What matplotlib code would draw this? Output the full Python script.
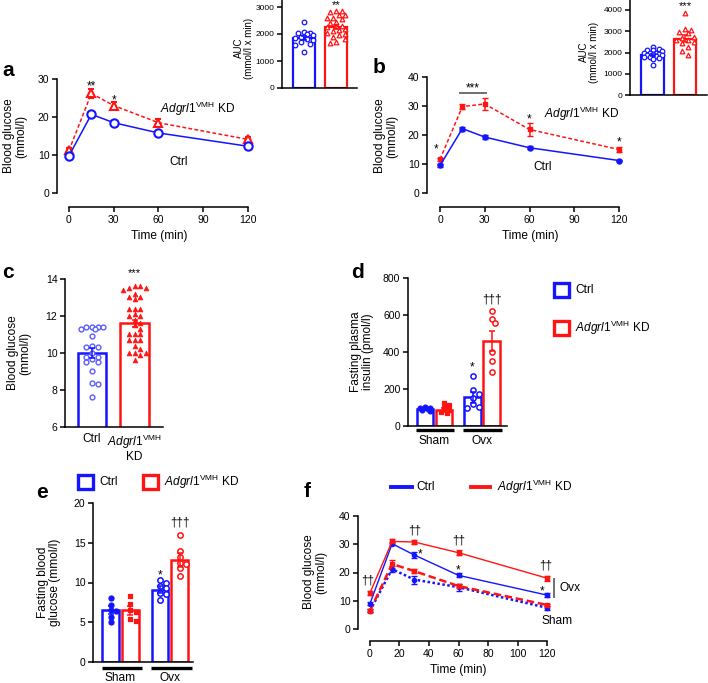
import numpy as np
import matplotlib
matplotlib.use('Agg')
import matplotlib.pyplot as plt
from matplotlib.patches import Rectangle
from matplotlib.lines import Line2D

plt.rcParams['font.family'] = ['Liberation Sans', 'DejaVu Sans']
plt.rcParams['mathtext.fontset'] = 'custom'
plt.rcParams['mathtext.rm'] = 'Liberation Sans'
plt.rcParams['mathtext.it'] = 'Liberation Sans:italic'
plt.rcParams['mathtext.bf'] = 'Liberation Sans:bold'

# ---------------- data ----------------
time_pts = [0, 15, 30, 60, 120]

a_ctrl = [9.8, 20.7, 18.5, 15.8, 12.3]
a_ctrl_err = [0.4, 0.6, 0.4, 0.5, 0.4]
a_kd = [11.2, 26.2, 23.0, 18.5, 14.1]
a_kd_err = [0.6, 1.2, 1.0, 1.0, 0.6]

a_auc_mean = [1860, 2260]
a_auc_err = [70, 90]
a_auc_ctrl = [2450, 2060, 2050, 2040, 2000, 1950, 1900, 1850, 1800, 1780, 1700, 1620, 1600, 1350]
a_auc_kd = [2870, 2850, 2820, 2720, 2700, 2600, 2580, 2560, 2450, 2400, 2300, 2280, 2250,
            2200, 2150, 2100, 2050, 2000, 1950, 1900, 1800, 1700, 1650]

b_ctrl = [9.5, 22.2, 19.3, 15.6, 11.2]
b_ctrl_err = [0.4, 0.7, 0.6, 0.5, 0.3]
b_kd = [11.6, 29.8, 30.7, 21.9, 15.0]
b_kd_err = [0.6, 1.0, 2.0, 2.2, 1.0]

b_auc_mean = [1900, 2650]
b_auc_err = [50, 150]
b_auc_ctrl = [2250, 2150, 2120, 2100, 2050, 2000, 2000, 1980, 1950, 1920, 1900, 1880, 1850,
              1800, 1780, 1750, 1700, 1400]
b_auc_kd = [3850, 3100, 3050, 2950, 2900, 2750, 2700, 2600, 2600, 2500, 2450, 2250, 2050, 1900]

c_mean = [10.0, 11.6]
c_err = [0.25, 0.2]
c_ctrl = [11.4, 11.4, 11.4, 11.4, 11.3, 11.3, 10.9, 10.4, 10.3, 10.3, 10.0, 9.8, 9.8, 9.7,
          9.5, 9.5, 9.0, 8.4, 8.3, 7.6]
c_kd = [13.6, 13.6, 13.5, 13.5, 13.4, 13.2, 13.0, 13.0, 12.9, 12.4, 12.4, 12.4, 12.1, 12.0,
        12.0, 11.8, 11.6, 11.5, 11.3, 11.0, 11.0, 11.0, 10.7, 10.7, 10.7, 10.4, 10.2, 10.0,
        10.0, 10.0, 9.9, 9.6]
c_labels = ['Ctrl', r'$\mathit{Adgrl1}^{\mathrm{VMH}}$' + '\nKD']

groups = ['Sham', 'Ovx']
d_mean = [90, 87, 155, 460]
d_err = [5, 10, 30, 55]
d_sham_ctrl = [105, 100, 95, 92, 88, 80]
d_sham_kd = [125, 115, 95, 85, 75, 70]
d_ovx_ctrl = [270, 195, 175, 150, 120, 105, 100]
d_ovx_kd = [620, 580, 555, 400, 350, 290]

e_mean = [6.6, 6.5, 9.1, 12.8]
e_err = [0.5, 0.6, 0.4, 0.9]
e_sham_ctrl = [8.1, 7.2, 6.6, 6.4, 5.6, 5.0]
e_sham_kd = [8.3, 7.3, 6.6, 6.3, 5.4, 5.1]
e_ovx_ctrl = [10.3, 10.0, 9.6, 9.3, 8.7, 8.5, 7.8]
e_ovx_kd = [16.0, 14.0, 13.2, 12.5, 12.3, 11.8, 10.8]

f_ovx_kd = [12.8, 31.0, 30.8, 27.0, 18.0]
f_ovx_kd_err = [0.8, 0.7, 0.8, 0.8, 0.9]
f_ovx_ctrl = [9.0, 30.2, 26.2, 19.0, 12.0]
f_ovx_ctrl_err = [0.5, 0.6, 0.9, 0.7, 0.8]
f_sham_kd = [6.5, 23.0, 20.5, 15.2, 8.5]
f_sham_kd_err = [0.6, 1.3, 0.8, 0.6, 0.5]
f_sham_ctrl = [6.5, 21.2, 17.5, 14.8, 7.5]
f_sham_ctrl_err = [0.5, 1.0, 1.4, 1.3, 0.6]

# ---------------- style ----------------
W, H = 708, 683
BLUE = '#1414ff'
RED = '#ff1414'
LBLUE = '#5c5cff'
KD = r'$\mathit{Adgrl1}^{\mathrm{VMH}}$ KD'
TICK = 7.5
LAB = 8.6

fig = plt.figure(figsize=(W / 100, H / 100), dpi=100)


def ftext(x, y, s, **kw):
    return fig.text(x / W, 1 - y / H, s, **kw)


def make_ax(L, T, R, B, xmap, ymap, lsize=TICK):
    xa, pxa, xb, pxb = xmap
    sx = (pxb - pxa) / (xb - xa)
    ya, pya, yb, pyb = ymap
    sy = (pya - pyb) / (yb - ya)
    ax = fig.add_axes([L / W, 1 - B / H, (R - L) / W, (B - T) / H])
    ax.set_xlim(xa + (L - pxa) / sx, xa + (R - pxa) / sx)
    ax.set_ylim(ya + (pya - B) / sy, ya + (pya - T) / sy)
    ax.patch.set_alpha(0)
    for s in ['top', 'right']:
        ax.spines[s].set_visible(False)
    for s in ['left', 'bottom']:
        ax.spines[s].set_linewidth(1.1)
    ax.tick_params(direction='out', length=3.5, width=1.1, labelsize=lsize, pad=2)
    return ax


def swarm(ax, center, values, size_px, maxw):
    p0 = ax.transData.transform((0, 0))
    p1 = ax.transData.transform((1, 1))
    sx = p1[0] - p0[0]
    sy = p1[1] - p0[1]
    placed = []
    xs = []
    step = size_px * 0.6
    cands = [0]
    k = 1
    while k * step <= maxw * sx:
        cands += [k * step, -k * step]
        k += 1
    for v in values:
        yp = v * sy
        best, bestd = 0, -1
        for c in cands:
            d = min([np.hypot(c - px, yp - py) for px, py in placed] + [1e9])
            if d >= size_px * 1.05:
                best = c
                bestd = d
                break
            if d > bestd:
                best, bestd = c, d
        placed.append((best, yp))
        xs.append(center + best / sx)
    return xs


def bars(ax, pos, means, errs, colors, width, lw=1.8):
    for p, m, e, c in zip(pos, means, errs, colors):
        ax.bar(p, m, width, facecolor='white', edgecolor=c, linewidth=lw, zorder=2)
        ax.errorbar(p, m, yerr=e, color=c, capsize=2.5, elinewidth=1.1, capthick=1.1, zorder=4)


def points(ax, center, values, color, marker, size_px, filled, maxw, s=14, lw=0.9):
    xs = swarm(ax, center, values, size_px, maxw)
    if filled:
        ax.scatter(xs, values, s=s, marker=marker, facecolor=color, edgecolor=color,
                   linewidths=lw, zorder=3, clip_on=False)
    else:
        ax.scatter(xs, values, s=s, marker=marker, facecolor='white', edgecolor=color,
                   linewidths=lw, zorder=3, clip_on=False)


# ---------------- panel a ----------------
ax = make_ax(57, 70, 255, 207, (0, 69, 120, 248), (0, 193, 30, 79))
ax.spines['left'].set_bounds(0, 30)
ax.spines['bottom'].set_bounds(0, 120)
ax.set_yticks([0, 10, 20, 30])
ax.set_xticks([0, 30, 60, 90, 120])
ax.errorbar(time_pts, a_kd, yerr=a_kd_err, color=RED, ls=(0, (2.5, 1.5)), lw=1.1, marker='^',
            mfc='white', mec=RED, ms=6, mew=1.5, capsize=2.5, elinewidth=1.1, zorder=3)
ax.errorbar(time_pts, a_ctrl, yerr=a_ctrl_err, color=BLUE, ls='-', lw=1.1, marker='o',
            mfc='white', mec=BLUE, ms=6, mew=1.5, capsize=2.5, elinewidth=1.1, zorder=4)
ax.text(15, 28.0, '**', ha='center', va='center', fontsize=8.5)
ax.text(30, 24.3, '*', ha='center', va='center', fontsize=8.5)
ftext(160, 113, KD, fontsize=LAB, va='baseline')
ftext(179, 165, 'Ctrl', fontsize=LAB, va='baseline', ha='center')
ftext(15, 136, 'Blood glucose\n(mmol/l)', rotation=90, ha='center', va='center', fontsize=LAB,
      multialignment='center', linespacing=1.1)
ftext(159, 236, 'Time (min)', ha='center', va='center', fontsize=LAB)
ftext(2, 76, 'a', fontsize=15, fontweight='bold', va='baseline')

# AUC inset a
ax = make_ax(282, 0, 357, 88, (0, 304, 1, 336), (0, 88, 3000, 7), lsize=6)
ax.set_yticks([0, 1000, 2000, 3000])
ax.set_xticks([])
bars(ax, [0, 1], a_auc_mean, a_auc_err, [BLUE, RED], 0.68, lw=1.6)
points(ax, 0, a_auc_ctrl, BLUE, 'o', 5, False, 0.3, s=11, lw=0.9)
points(ax, 1, a_auc_kd, RED, '^', 5, False, 0.3, s=11, lw=0.9)
ax.text(1, 3080, '**', ha='center', va='center', fontsize=8)
ftext(244, 48, 'AUC\n(mmol/l x min)', rotation=90, ha='center', va='center', fontsize=7,
      multialignment='center', linespacing=1.1)

# ---------------- panel b ----------------
ax = make_ax(427, 70, 628, 207, (0, 440, 120, 619), (0, 193, 40, 77))
ax.spines['left'].set_bounds(0, 40)
ax.spines['bottom'].set_bounds(0, 120)
ax.set_yticks([0, 10, 20, 30, 40])
ax.set_xticks([0, 30, 60, 90, 120])
ax.errorbar(time_pts, b_kd, yerr=b_kd_err, color=RED, ls=(0, (2.5, 1.5)), lw=1.1, marker='s',
            ms=3.2, mfc=RED, mec=RED, capsize=2.5, elinewidth=1.1, zorder=3)
ax.errorbar(time_pts, b_ctrl, yerr=b_ctrl_err, color=BLUE, ls='-', lw=1.1, marker='o',
            ms=3.6, mfc=BLUE, mec=BLUE, capsize=2.5, elinewidth=1.1, zorder=4)
ax.text(-2.7, 15.0, '*', ha='center', va='center', fontsize=8.5)
ax.plot([13.4, 31], [34.6, 34.6], color='#707070', lw=1.4)
ax.text(22.2, 36.0, '***', ha='center', va='center', fontsize=8.5)
ax.text(60, 25.3, '*', ha='center', va='center', fontsize=8.5)
ax.text(120, 17.4, '*', ha='center', va='center', fontsize=8.5)
ftext(544, 118, KD, fontsize=LAB, va='baseline')
ftext(543, 170, 'Ctrl', fontsize=LAB, va='baseline', ha='center')
ftext(386, 136, 'Blood glucose\n(mmol/l)', rotation=90, ha='center', va='center', fontsize=LAB,
      multialignment='center', linespacing=1.1)
ftext(530, 236, 'Time (min)', ha='center', va='center', fontsize=LAB)
ftext(373, 73, 'b', fontsize=15, fontweight='bold', va='baseline')

# AUC inset b
ax = make_ax(630, 0, 707, 95, (0, 652.5, 1, 685), (0, 95, 4000, 10), lsize=6)
ax.set_yticks([0, 1000, 2000, 3000, 4000])
ax.set_xticks([])
bars(ax, [0, 1], b_auc_mean, b_auc_err, [BLUE, RED], 0.68, lw=1.6)
points(ax, 0, b_auc_ctrl, BLUE, 'o', 5, False, 0.3, s=11, lw=0.9)
points(ax, 1, b_auc_kd, RED, '^', 5, False, 0.3, s=11, lw=0.9)
ax.text(1, 4180, '***', ha='center', va='center', fontsize=8)
ftext(589, 52, 'AUC\n(mmol/l x min)', rotation=90, ha='center', va='center', fontsize=7,
      multialignment='center', linespacing=1.1)

# ---------------- panel c ----------------
ax = make_ax(65, 262, 163, 427, (0, 92, 1, 134.5), (6, 427, 14, 279))
ax.set_yticks([6, 8, 10, 12, 14])
ax.spines['left'].set_bounds(6, 14)
ax.set_xticks([0, 1])
ax.set_xticklabels(c_labels, fontsize=LAB, linespacing=1.0)
ax.tick_params(axis='x', length=0, pad=4)
bars(ax, [0, 1], c_mean, c_err, [BLUE, RED], 0.66)
points(ax, 0, c_ctrl, LBLUE, 'o', 4.6, False, 0.3, s=12, lw=1.0)
points(ax, 1, c_kd, RED, '^', 4.6, True, 0.3, s=12, lw=0.5)
ax.text(1, 14.3, '***', ha='center', va='center', fontsize=8)
ftext(19, 353, 'Blood glucose\n(mmol/l)', rotation=90, ha='center', va='center', fontsize=LAB,
      multialignment='center', linespacing=1.1)
ftext(2, 278, 'c', fontsize=15, fontweight='bold', va='baseline')

# ---------------- panel d ----------------
pos4 = [0, 1, 2.5, 3.5]
ax = make_ax(408, 268, 507, 426, (0, 425, 1, 444), (0, 426, 800, 278))
ax.set_yticks([0, 200, 400, 600, 800])
ax.spines['left'].set_bounds(0, 800)
ax.set_xticks([])
bars(ax, pos4, d_mean, d_err, [BLUE, RED, BLUE, RED], 0.86)
points(ax, pos4[0], d_sham_ctrl, BLUE, 'o', 4.2, True, 0.35, s=12)
points(ax, pos4[1], d_sham_kd, RED, 's', 4.2, True, 0.35, s=11)
points(ax, pos4[2], d_ovx_ctrl, BLUE, 'o', 5, False, 0.35, s=14, lw=1.1)
points(ax, pos4[3], d_ovx_kd, RED, 'o', 5, False, 0.35, s=14, lw=1.1)
ax.text(pos4[2], 316, '*', ha='center', va='center', fontsize=8.5)
ax.text(pos4[3], 684, '†††', ha='center', va='center', fontsize=8.5)
for gi, g in enumerate(groups):
    x0, x1 = pos4[2 * gi] - 0.5, pos4[2 * gi + 1] + 0.55
    ax.plot([x0, x1], [-22, -22], color='black', lw=2.4, clip_on=False, solid_capstyle='butt')
    ax.text((pos4[2 * gi] + pos4[2 * gi + 1]) / 2, -80, g, ha='center', va='center',
            fontsize=LAB)
ftext(362, 352, 'Fasting plasma\ninsulin (pmol/l)', rotation=90, ha='center', va='center',
      fontsize=LAB, multialignment='center', linespacing=1.1)
ftext(351, 278, 'd', fontsize=15, fontweight='bold', va='baseline')
# legend d
for yb, c, lab in [(283, BLUE, 'Ctrl'), (321, RED, KD)]:
    fig.add_artist(Rectangle((554 / W, 1 - (yb + 14) / H), 15 / W, 14 / H, transform=fig.transFigure,
                             facecolor='white', edgecolor=c, linewidth=2.4))
    ftext(575, yb + 7, lab, va='center', fontsize=LAB)

# ---------------- panel e ----------------
ax = make_ax(93, 495, 193, 662, (0, 110.5, 1, 130.3), (0, 662, 20, 503))
ax.set_yticks([0, 5, 10, 15, 20])
ax.spines['left'].set_bounds(0, 20)
ax.set_xticks([])
bars(ax, pos4, e_mean, e_err, [BLUE, RED, BLUE, RED], 0.84)
points(ax, pos4[0], e_sham_ctrl, BLUE, 'o', 4.4, True, 0.35, s=13)
points(ax, pos4[1], e_sham_kd, RED, 's', 4.4, True, 0.35, s=12)
points(ax, pos4[2], e_ovx_ctrl, BLUE, 'o', 5, False, 0.35, s=15, lw=1.1)
points(ax, pos4[3], e_ovx_kd, RED, 'o', 5, False, 0.35, s=15, lw=1.1)
ax.text(pos4[2], 10.9, '*', ha='center', va='center', fontsize=8.5)
ax.text(pos4[3], 17.5, '†††', ha='center', va='center', fontsize=8.5)
for gi, g in enumerate(groups):
    x0, x1 = pos4[2 * gi] - 0.45, pos4[2 * gi + 1] + 0.6
    ax.plot([x0, x1], [-0.75, -0.75], color='black', lw=2.4, clip_on=False, solid_capstyle='butt')
    ax.text((pos4[2 * gi] + pos4[2 * gi + 1]) / 2, -2.05, g, ha='center', va='center',
            fontsize=LAB)
ftext(49, 582, 'Fasting blood\nglucose (mmol/l)', rotation=90, ha='center', va='center',
      fontsize=LAB, multialignment='center', linespacing=1.1)
ftext(36, 498, 'e', fontsize=15, fontweight='bold', va='baseline')
for xb, c, lab in [(78, BLUE, 'Ctrl'), (143, RED, KD)]:
    fig.add_artist(Rectangle((xb / W, 1 - 489 / H), 15 / W, 14 / H, transform=fig.transFigure,
                             facecolor='white', edgecolor=c, linewidth=2.4))
    ftext(xb + 21, 482, lab, va='center', fontsize=LAB)

# ---------------- panel f ----------------
ax = make_ax(358, 508, 560, 641, (0, 370, 120, 547), (0, 629, 40, 516))
ax.spines['left'].set_bounds(0, 40)
ax.spines['bottom'].set_bounds(0, 120)
ax.set_yticks([0, 10, 20, 30, 40])
ax.set_xticks([0, 20, 40, 60, 80, 100, 120])
ax.errorbar(time_pts, f_sham_ctrl, yerr=f_sham_ctrl_err, color=BLUE, ls=(0, (1, 1)), lw=1.8,
            marker='o', ms=3, capsize=2, elinewidth=1.0, zorder=3)
ax.errorbar(time_pts, f_sham_kd, yerr=f_sham_kd_err, color=RED, ls=(0, (3, 1.5)), lw=1.8,
            marker='s', ms=3, capsize=2, elinewidth=1.0, zorder=3)
ax.errorbar(time_pts, f_ovx_ctrl, yerr=f_ovx_ctrl_err, color=BLUE, ls='-', lw=1.0,
            marker='o', ms=3, capsize=2, elinewidth=1.0, zorder=4)
ax.errorbar(time_pts, f_ovx_kd, yerr=f_ovx_kd_err, color=RED, ls='-', lw=1.0,
            marker='s', ms=3, capsize=2, elinewidth=1.0, zorder=4)
for x, y, s in [(-1.4, 17.3, '††'), (30.5, 35.0, '††'), (60, 31.2, '††'), (119, 22.6, '††'),
                (34, 26.4, '*'), (60, 20.7, '*'), (116.6, 13.3, '*')]:
    ax.text(x, y, s, ha='center', va='center', fontsize=8.5)
ax.plot([124.7, 124.7], [11.3, 17.7], color='#707070', lw=1.4, clip_on=False)
ax.text(128.8, 14.5, 'Ovx', ha='left', va='center', fontsize=LAB)
ax.text(116.6, 2.8, 'Sham', ha='left', va='center', fontsize=LAB)
ftext(315, 572, 'Blood glucose\n(mmol/l)', rotation=90, ha='center', va='center', fontsize=LAB,
      multialignment='center', linespacing=1.1)
ftext(458, 670, 'Time (min)', ha='center', va='center', fontsize=LAB)
ftext(304, 497, 'f', fontsize=15, fontweight='bold', va='baseline')
for x0, x1, c, lab in [(391, 412, BLUE, 'Ctrl'), (471, 490, RED, KD)]:
    fig.add_artist(Line2D([x0 / W, x1 / W], [1 - 487 / H, 1 - 487 / H], transform=fig.transFigure,
                          color=c, lw=2.8))
    ftext(x1 + 4 if c == BLUE else x1 + 7, 487, lab, va='center', fontsize=LAB)

fig.savefig('out.png', dpi=100)
